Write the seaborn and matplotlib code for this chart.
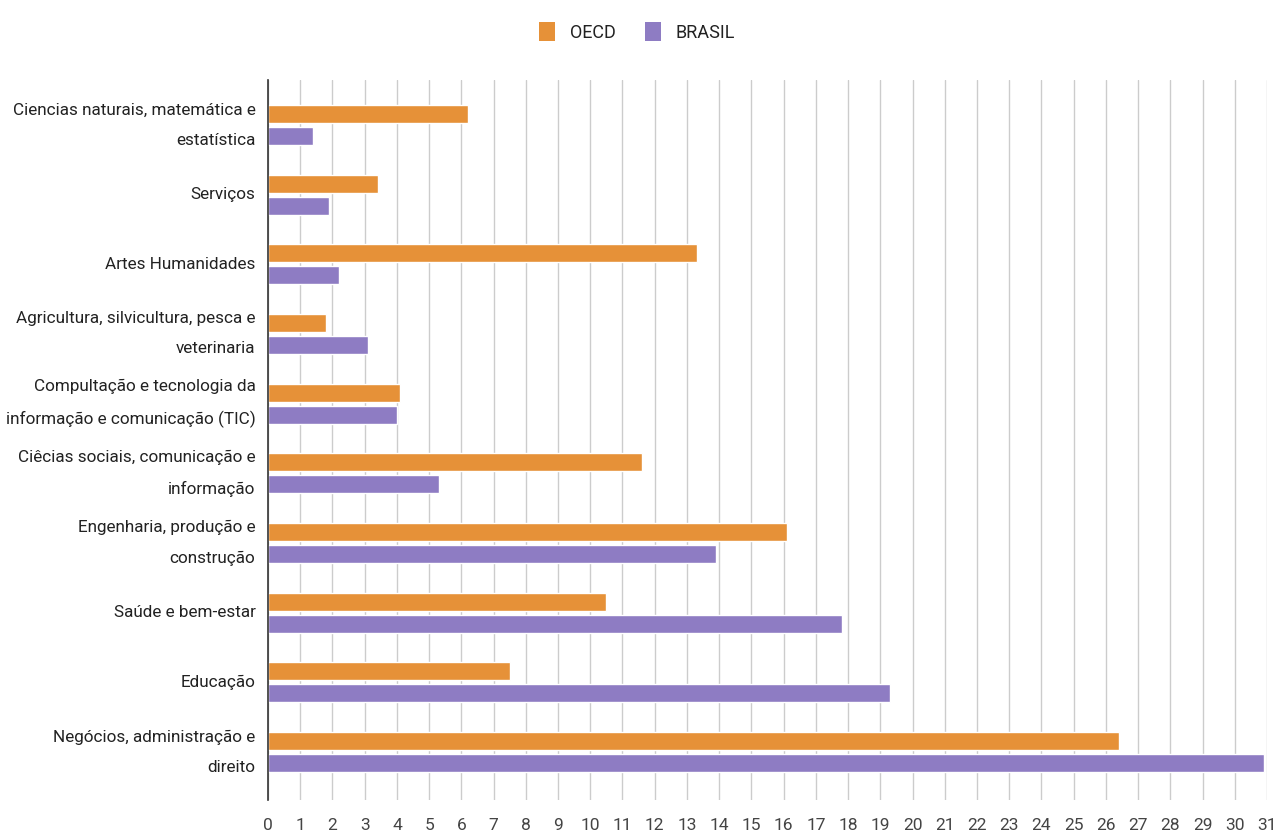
import matplotlib
matplotlib.use("Agg")
import matplotlib.pyplot as plt
import seaborn as sns
import pandas as pd
from matplotlib.patches import Patch

categories = [
    "Ciencias naturais, matemática e\nestatística",
    "Serviços",
    "Artes Humanidades",
    "Agricultura, silvicultura, pesca e\nveterinaria",
    "Compultação e tecnologia da\ninformação e comunicação (TIC)",
    "Ciêcias sociais, comunicação e\ninformação",
    "Engenharia, produção e\nconstrução",
    "Saúde e bem-estar",
    "Educação",
    "Negócios, administração e\ndireito",
]
oecd = [6.2, 3.4, 13.3, 1.8, 4.1, 11.6, 16.1, 10.5, 7.5, 26.4]
brasil = [1.4, 1.9, 2.2, 3.1, 4.0, 5.3, 13.9, 17.8, 19.3, 30.9]
series_names = ["OECD", "BRASIL"]
ticks = list(range(0, 32))

df = pd.DataFrame({
    "categoria": categories * 2,
    "valor": oecd + brasil,
    "serie": [series_names[0]] * len(categories) + [series_names[1]] * len(categories),
})

sns.set_theme(style="white")
plt.rcParams["font.family"] = ["Roboto", "DejaVu Sans"]

fig = plt.figure(figsize=(12.77, 8.39), dpi=100)
ax = fig.add_axes([268 / 1277, 1 - 800 / 839, (1267 - 268) / 1277, 720 / 839])

palette = {"OECD": "#e69138", "BRASIL": "#8e7cc3"}
sns.barplot(data=df, y="categoria", x="valor", hue="serie", palette=palette,
            orient="h", width=0.63, gap=0.18, ax=ax, legend=False, zorder=3,
            saturation=1)

ax.set_xlim(0, 31)
ax.set_ylim(9.69, -0.646)
ax.set_xticks(ticks)
ax.set_xticklabels([str(t) for t in ticks], fontsize=12.5, color="#444444")
ax.tick_params(axis="x", length=0, pad=13)
ax.tick_params(axis="y", length=0, pad=9, labelsize=12.3, labelcolor="#222222")
for lbl in ax.get_yticklabels():
    lbl.set_linespacing(2.25)
    lbl.set_verticalalignment("center")
ax.set_xlabel("")
ax.set_ylabel("")
ax.grid(axis="x", color="#cccccc", linewidth=1, zorder=0)
ax.grid(axis="y", visible=False)
for s in ["top", "right", "bottom"]:
    ax.spines[s].set_visible(False)
ax.spines["left"].set_color("#333333")
ax.spines["left"].set_linewidth(1.2)
ax.spines["left"].set_zorder(4)

handles = [Patch(facecolor=palette[n], edgecolor="none") for n in series_names]
fig.legend(handles, series_names, loc="center", bbox_to_anchor=(637 / 1277, 1 - 32 / 839),
           ncol=2, frameon=False, fontsize=13, handlelength=0.9, handleheight=1.2,
           columnspacing=1.6, handletextpad=0.8, labelcolor="#222222")

fig.savefig("out.png", dpi=100)
